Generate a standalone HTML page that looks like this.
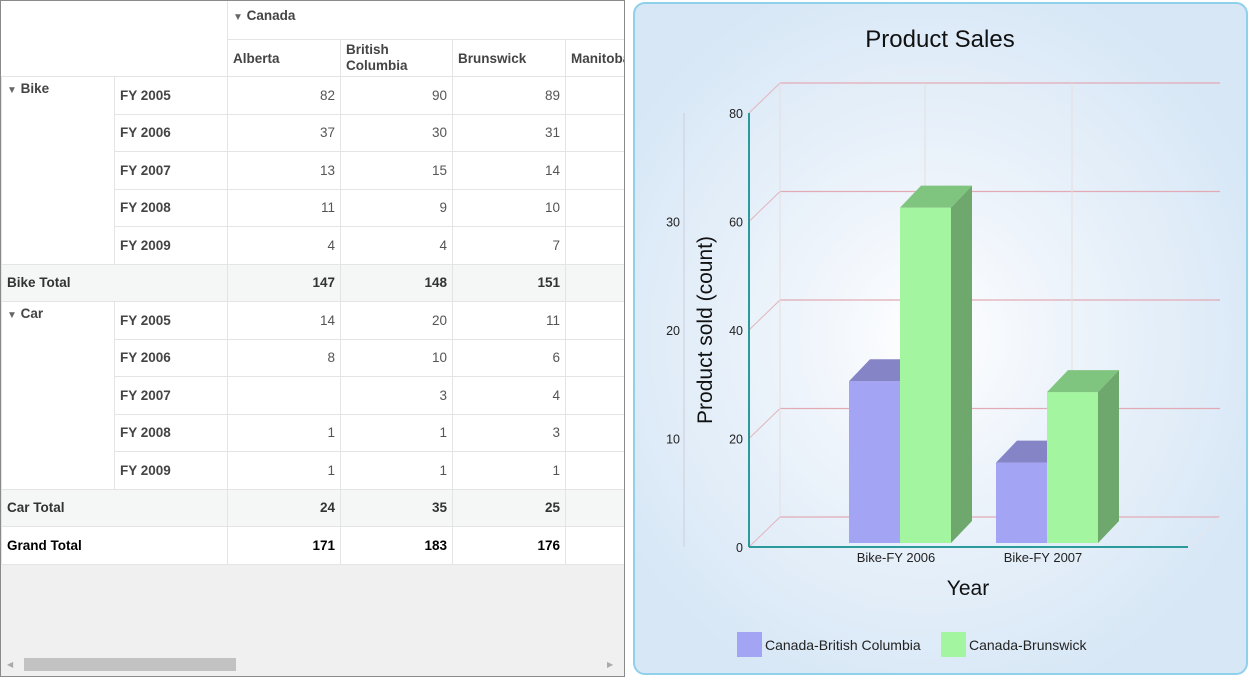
<!DOCTYPE html>
<html><head><meta charset="utf-8"><style>
body{margin:0;width:1250px;height:677px;background:#fff;font-family:"Liberation Sans",sans-serif;overflow:hidden;position:relative}
#grid{position:absolute;left:0;top:0;width:623px;height:675px;border:1px solid #8a8a8a;background:#f0f0f0;overflow:hidden}
table{border-collapse:collapse;table-layout:fixed;font-size:13.5px;color:#333;background:#fff}
tr{height:37.5px}
td{border:1px solid #e4e4e4;padding:0 5px;box-sizing:border-box;overflow:hidden;white-space:nowrap}
.h{font-weight:bold;color:#444}
.n{text-align:right;color:#555}
.tot td{background:#f5f6f6;font-weight:bold}
.tot td.n{color:#333}
.tri{font-size:10px;color:#666}
#scroll{position:absolute;left:0;top:652px;width:623px;height:23px;background:#f0f0f0}
#chart{position:absolute;left:633px;top:2px;width:611px;height:669px;border:2px solid #8fd0ea;border-radius:12px;background:radial-gradient(ellipse at 48% 50%,#ffffff 0%,#eef4fb 30%,#d7e7f6 80%)}
</style></head><body>
<div id="grid">
<table style="width:625px;margin-top:-1px">
<colgroup><col style="width:113px"><col style="width:113px"><col style="width:113px"><col style="width:112px"><col style="width:113px"><col style="width:61px"></colgroup>
<tr style="height:39px"><td colspan="2" rowspan="2" style="border-top:0;border-left:0"></td><td colspan="4" class="h" style="vertical-align:top;padding-top:7px"><span class="tri">▼</span> Canada</td></tr>
<tr style="height:37px"><td class="h">Alberta</td><td class="h" style="line-height:16px;white-space:normal">British Columbia</td><td class="h">Brunswick</td><td class="h">Manitoba</td></tr>
<tr><td rowspan="5" class="h" style="vertical-align:top;padding-top:4px"><span class="tri">▼</span> Bike</td><td class="h">FY 2005</td><td class="n">82</td><td class="n">90</td><td class="n">89</td><td></td></tr>
<tr><td class="h">FY 2006</td><td class="n">37</td><td class="n">30</td><td class="n">31</td><td></td></tr>
<tr><td class="h">FY 2007</td><td class="n">13</td><td class="n">15</td><td class="n">14</td><td></td></tr>
<tr><td class="h">FY 2008</td><td class="n">11</td><td class="n">9</td><td class="n">10</td><td></td></tr>
<tr><td class="h">FY 2009</td><td class="n">4</td><td class="n">4</td><td class="n">7</td><td></td></tr>
<tr class="tot"><td colspan="2">Bike Total</td><td class="n">147</td><td class="n">148</td><td class="n">151</td><td></td></tr>
<tr><td rowspan="5" class="h" style="vertical-align:top;padding-top:4px"><span class="tri">▼</span> Car</td><td class="h">FY 2005</td><td class="n">14</td><td class="n">20</td><td class="n">11</td><td></td></tr>
<tr><td class="h">FY 2006</td><td class="n">8</td><td class="n">10</td><td class="n">6</td><td></td></tr>
<tr><td class="h">FY 2007</td><td class="n"></td><td class="n">3</td><td class="n">4</td><td></td></tr>
<tr><td class="h">FY 2008</td><td class="n">1</td><td class="n">1</td><td class="n">3</td><td></td></tr>
<tr><td class="h">FY 2009</td><td class="n">1</td><td class="n">1</td><td class="n">1</td><td></td></tr>
<tr class="tot"><td colspan="2">Car Total</td><td class="n">24</td><td class="n">35</td><td class="n">25</td><td></td></tr>
<tr class="tot"><td colspan="2" style="background:#fff;color:#000">Grand Total</td><td class="n" style="background:#fff;color:#000">171</td><td class="n" style="background:#fff;color:#000">183</td><td class="n" style="background:#fff;color:#000">176</td><td style="background:#fff"></td></tr>
</table>
<div id="scroll">
<div style="position:absolute;left:6px;top:7px;font-size:8px;color:#aaa">◀</div>
<div style="position:absolute;left:23px;top:5px;width:212px;height:13px;background:#c2c2c2"></div>
<div style="position:absolute;left:606px;top:7px;font-size:8px;color:#aaa">▶</div>
</div>
</div>
<div id="chart"></div>
<svg id="svg" width="1250" height="677" style="position:absolute;left:0;top:0"></svg>
<script>
const categories=["Bike-FY 2006","Bike-FY 2007"];
const seriesBC=[30,15];
const seriesBrunswick=[31,14];
const primaryTicks=[0,20,40,60,80];
const secondaryTicks=[10,20,30];
const seriesNames=["Canada-British Columbia","Canada-Brunswick"];
const NS="http://www.w3.org/2000/svg";
const svg=document.getElementById('svg');
function el(t,a,p){const e=document.createElementNS(NS,t);for(const k in a)e.setAttribute(k,a[k]);(p||svg).appendChild(e);return e;}
const x0=749,x1=1188,yb=547,yt=113,DX=31,DY=30;
const yP=v=>yb-(v/80)*(yb-yt);
const yS=v=>yb-(v/40)*(yb-yt);
const catX=i=>900+i*147;
primaryTicks.forEach(t=>{const y=yP(t)-DY;
 const l=el('line',{x1:x0+DX,y1:y,x2:1220,y2:y,stroke:'#e2aab4','stroke-width':1.2});
 const d=el('line',{x1:x0,y1:yP(t),x2:x0+DX,y2:y,stroke:'#e2b4bc'});
 const tx=el('text',{x:743,y:yP(t)+5,'text-anchor':'end','font-size':12.5,fill:'#222'});tx.textContent=t;
});
[x0+DX,925,1072].forEach(x=>{const l=el('line',{x1:x,y1:yt-DY,x2:x,y2:yb-DY,stroke:'#e6dede'});});
el('line',{x1:1188,y1:yb,x2:1220,y2:yb-DY,stroke:'#e6e6ee'});
const ax=el('line',{x1:x0,y1:yt,x2:x0,y2:yb,stroke:'#2a9a9a','stroke-width':2});
const bx=el('line',{x1:x0,y1:yb,x2:x1,y2:yb,stroke:'#2a9a9a','stroke-width':2});
const sa=el('line',{x1:684,y1:yt,x2:684,y2:yb,stroke:'#ccd','stroke-width':1});
secondaryTicks.forEach(t=>{const tx=el('text',{x:680,y:yS(t)+5,'text-anchor':'end','font-size':12.5,fill:'#222'});tx.textContent=t;});
const bw=51,bot=543,dx=21,dy=22;
function bar(x,top,f,tp,sd,name){const g=el('g',{});
 el('rect',{x:x,y:top,width:bw,height:bot-top,fill:f},g);
 el('polygon',{points:`${x},${top} ${x+dx},${top-dy} ${x+bw+dx},${top-dy} ${x+bw},${top}`,fill:tp},g);
 el('polygon',{points:`${x+bw},${top} ${x+bw+dx},${top-dy} ${x+bw+dx},${bot-dy} ${x+bw},${bot}`,fill:sd},g);}
categories.forEach((c,i)=>{const cx=catX(i);
 bar(cx-bw,yP(seriesBC[i])-3,'#a3a4f4','#8584c6','#8584c6','bar-bc-'+i);
 bar(cx,yS(seriesBrunswick[i])-3,'#a4f59f','#80c57f','#6ea86d','bar-brunswick-'+i);
 const t=el('text',{x:cx-4,y:562,'text-anchor':'middle','font-size':13,fill:'#222'});t.textContent=c;
});
const title=el('text',{x:940,y:47,'text-anchor':'middle','font-size':24,fill:'#111'});title.textContent='Product Sales';
const xt=el('text',{x:968,y:595,'text-anchor':'middle','font-size':21,fill:'#111'});xt.textContent='Year';
const yt2=el('text',{x:0,y:0,'text-anchor':'middle','font-size':21,fill:'#111',transform:'translate(712,330) rotate(-90)'});yt2.textContent='Product sold (count)';
[['#a3a4f4',737,765],['#a4f59f',941,969]].forEach((L,i)=>{const g=el('g',{});
 el('rect',{x:L[1],y:632,width:25,height:25,fill:L[0]},g);
 const t=el('text',{x:L[2],y:650,'font-size':14,fill:'#222'},g);t.textContent=seriesNames[i];});
</script>
</body></html>
